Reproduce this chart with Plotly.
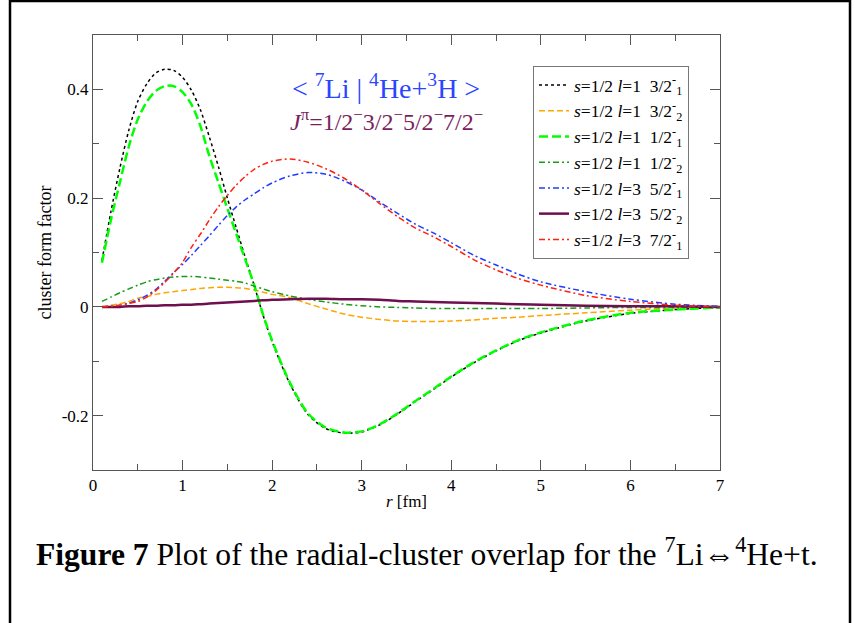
import plotly.graph_objects as go

r = [0.1, 0.2, 0.3, 0.4, 0.5, 0.6, 0.7, 0.8, 0.9, 1.0, 1.1, 1.2, 1.3, 1.4, 1.5,
     1.6, 1.7, 1.8, 1.9, 2.0, 2.2, 2.4, 2.6, 2.8, 3.0, 3.2, 3.4, 3.6, 3.8, 4.0,
     4.25, 4.5, 4.75, 5.0, 5.5, 6.0, 6.5, 7.0]

f_32_1 = [0.085, 0.175, 0.255, 0.325, 0.378, 0.410, 0.430, 0.437, 0.435, 0.422,
          0.398, 0.362, 0.312, 0.258, 0.200, 0.145, 0.091, 0.039, -0.016, -0.064,
          -0.142, -0.198, -0.224, -0.232, -0.230, -0.217, -0.197, -0.174, -0.152, -0.129,
          -0.103, -0.081, -0.062, -0.048, -0.026, -0.012, -0.005, -0.001]
f_32_2 = [0.000, 0.003, 0.006, 0.010, 0.016, 0.019, 0.023, 0.026, 0.028, 0.030,
          0.032, 0.034, 0.035, 0.036, 0.036, 0.035, 0.034, 0.031, 0.027, 0.023,
          0.017, 0.006, -0.004, -0.013, -0.019, -0.023, -0.026, -0.027, -0.027, -0.026,
          -0.024, -0.021, -0.019, -0.016, -0.011, -0.006, -0.002, 0.000]
f_12_1 = [0.081, 0.160, 0.229, 0.295, 0.345, 0.377, 0.397, 0.406, 0.406, 0.395,
          0.372, 0.332, 0.277, 0.229, 0.181, 0.134, 0.087, 0.040, -0.015, -0.062,
          -0.140, -0.196, -0.222, -0.231, -0.229, -0.216, -0.196, -0.173, -0.151, -0.128,
          -0.102, -0.080, -0.061, -0.047, -0.025, -0.011, -0.005, -0.001]
f_12_2 = [0.010, 0.018, 0.026, 0.033, 0.040, 0.046, 0.050, 0.053, 0.055, 0.056,
          0.056, 0.055, 0.053, 0.051, 0.049, 0.047, 0.044, 0.038, 0.033, 0.028,
          0.020, 0.014, 0.009, 0.005, 0.002, 0.000, -0.001, -0.002, -0.003, -0.003,
          -0.003, -0.003, -0.003, -0.003, -0.002, -0.001, -0.001, 0.000]
f_52_1 = [0.000, 0.001, 0.003, 0.007, 0.013, 0.021, 0.032, 0.047, 0.063, 0.078,
          0.095, 0.113, 0.131, 0.150, 0.168, 0.184, 0.197, 0.208, 0.219, 0.228,
          0.241, 0.247, 0.244, 0.232, 0.215, 0.193, 0.172, 0.152, 0.136, 0.118,
          0.095, 0.077, 0.060, 0.046, 0.028, 0.014, 0.005, 0.001]
f_52_2 = [0.000, 0.000, 0.000, 0.001, 0.001, 0.002, 0.002, 0.003, 0.003, 0.004,
          0.004, 0.005, 0.006, 0.007, 0.008, 0.009, 0.010, 0.011, 0.012, 0.013,
          0.014, 0.015, 0.015, 0.014, 0.014, 0.013, 0.011, 0.010, 0.009, 0.008,
          0.007, 0.006, 0.005, 0.004, 0.002, 0.001, 0.001, 0.000]
f_72_1 = [0.000, 0.001, 0.003, 0.006, 0.010, 0.018, 0.030, 0.045, 0.062, 0.082,
          0.110, 0.134, 0.160, 0.184, 0.205, 0.224, 0.240, 0.253, 0.262, 0.268,
          0.272, 0.266, 0.254, 0.237, 0.215, 0.190, 0.166, 0.145, 0.129, 0.111,
          0.087, 0.068, 0.052, 0.040, 0.021, 0.010, 0.003, 0.000]

NB = "\u00a0"
names = [
    f"<i>s</i>=1/2 <i>l</i>=1{NB}{NB}3/2<sup>-</sup><sub>1</sub>",
    f"<i>s</i>=1/2 <i>l</i>=1{NB}{NB}3/2<sup>-</sup><sub>2</sub>",
    f"<i>s</i>=1/2 <i>l</i>=1{NB}{NB}1/2<sup>-</sup><sub>1</sub>",
    f"<i>s</i>=1/2 <i>l</i>=1{NB}{NB}1/2<sup>-</sup><sub>2</sub>",
    f"<i>s</i>=1/2 <i>l</i>=3{NB}{NB}5/2<sup>-</sup><sub>1</sub>",
    f"<i>s</i>=1/2 <i>l</i>=3{NB}{NB}5/2<sup>-</sup><sub>2</sub>",
    f"<i>s</i>=1/2 <i>l</i>=3{NB}{NB}7/2<sup>-</sup><sub>1</sub>",
]
series = [f_32_1, f_32_2, f_12_1, f_12_2, f_52_1, f_52_2, f_72_1]
styles = [
    dict(color="black", dash="dot", width=1.5),
    dict(color="#ffa500", dash="6px,3px", width=1.5),
    dict(color="#00ff00", dash="9px,4px", width=2.5),
    dict(color="#1a9a1a", dash="6px,3px,2px,3px", width=1.5),
    dict(color="#1e3cff", dash="6px,3px,2px,3px", width=1.5),
    dict(color="#6e0f4e", width=2.5),
    dict(color="#ff2010", dash="6px,3px,2px,3px", width=1.5),
]

fig = go.Figure()
for n, s, st in zip(names, series, styles):
    fig.add_trace(go.Scatter(x=r, y=s, mode="lines", name=n,
                             line=dict(shape="spline", smoothing=0.8, **st)))

FONT = "Liberation Serif"
axis_common = dict(showline=True, linecolor="#555", linewidth=1, mirror="allticks",
                   ticks="inside", ticklen=10, tickcolor="#555", showgrid=False,
                   zeroline=False, tickfont=dict(family=FONT, size=17, color="black"))

fig.update_xaxes(range=[0, 7], tickvals=[0, 1, 2, 3, 4, 5, 6, 7],
                 minor=dict(dtick=0.5, ticklen=6, ticks="inside", tickcolor="#555"),
                 title=dict(text="<i>r</i> [fm]", font=dict(family=FONT, size=17, color="black"),
                            standoff=0),
                 **axis_common)
fig.update_yaxes(range=[-0.3, 0.5], tickvals=[-0.2, 0, 0.2, 0.4],
                 ticktext=["-0.2", "0", "0.2", "0.4"],
                 minor=dict(dtick=0.1, ticklen=6, ticks="inside", tickcolor="#555"),
                 title=dict(text="cluster form factor", font=dict(family=FONT, size=18, color="black"),
                            standoff=5),
                 **axis_common)

def px_x(p):
    return (p - 93) / 627.0

def px_y(p):
    return (470 - p) / 435.0

annotations = [
    dict(text="< <sup>7</sup>Li | <sup>4</sup>He+<sup>3</sup>H >", x=px_x(386), y=px_y(86),
         font=dict(family=FONT, size=28, color="#2a45ff")),
    dict(text="<i>J</i><sup>π</sup>=1/2<sup>−</sup>3/2<sup>−</sup>5/2<sup>−</sup>7/2<sup>−</sup>",
         x=px_x(386), y=px_y(120), font=dict(family=FONT, size=24, color="#7a1f5e")),
    dict(text="<b>Figure 7</b> Plot of the radial-cluster overlap for the <sup>7</sup>Li⇔<sup>4</sup>He+t.",
         x=px_x(34), y=px_y(552), xanchor="left",
         font=dict(family=FONT, size=31.6, color="black")),
]
for a in annotations:
    a.update(xref="paper", yref="paper", showarrow=False)
    a.setdefault("xanchor", "center")
    a["yanchor"] = "middle"

shapes = [
    dict(type="line", x0=px_x(10), x1=px_x(10), y0=px_y(0), y1=px_y(623)),
    dict(type="line", x0=px_x(850), x1=px_x(850), y0=px_y(0), y1=px_y(623)),
    dict(type="line", x0=px_x(10), x1=px_x(850), y0=px_y(1), y1=px_y(1)),
]
for s in shapes:
    s.update(xref="paper", yref="paper", line=dict(color="black", width=2.5))

fig.update_layout(
    width=855, height=623,
    margin=dict(l=93, r=135, t=35, b=153),
    paper_bgcolor="white", plot_bgcolor="white",
    font=dict(family=FONT, color="black"),
    annotations=annotations,
    shapes=shapes,
    legend=dict(x=px_x(533), y=px_y(66), xanchor="left", yanchor="top",
                bordercolor="#777", borderwidth=1, bgcolor="white",
                font=dict(family=FONT, size=17.5, color="black"),
                itemwidth=30, tracegroupgap=0),
)

fig.write_html("out.html")
